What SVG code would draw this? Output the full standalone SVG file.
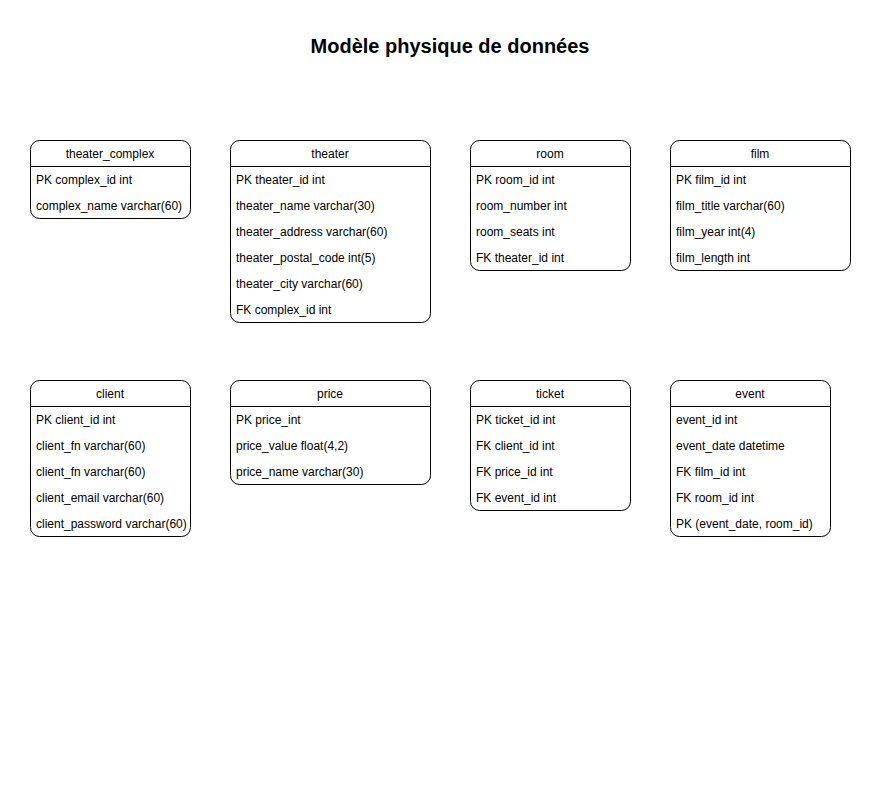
<svg xmlns="http://www.w3.org/2000/svg" width="882" height="791" viewBox="0 0 882 791">
<style>
.box{fill:#fff;stroke:#000;stroke-width:1}
.sep{stroke:#000;stroke-width:1}
text{font-family:"Liberation Sans",Arial,sans-serif;font-size:12px;fill:#000}
.h{text-anchor:middle}
.title{font-size:20px;font-weight:bold;text-anchor:middle}
</style>
<rect width="882" height="791" fill="#fff"/>
<text class="title" x="450" y="53">Modèle physique de données</text>
<g id="connectors"/>
<g id="theater_complex">
<rect class="box" x="30.5" y="140.5" width="160" height="78" rx="9"/>
<line class="sep" x1="30.5" y1="166.5" x2="190.5" y2="166.5"/>
<text class="h" x="110" y="158">theater_complex</text>
<text x="36" y="184">PK complex_id int</text>
<text x="36" y="210">complex_name varchar(60)</text>
</g>
<g id="theater">
<rect class="box" x="230.5" y="140.5" width="200" height="182" rx="9"/>
<line class="sep" x1="230.5" y1="166.5" x2="430.5" y2="166.5"/>
<text class="h" x="330" y="158">theater</text>
<text x="236" y="184">PK theater_id int</text>
<text x="236" y="210">theater_name varchar(30)</text>
<text x="236" y="236">theater_address varchar(60)</text>
<text x="236" y="262">theater_postal_code int(5)</text>
<text x="236" y="288">theater_city varchar(60)</text>
<text x="236" y="314">FK complex_id int</text>
</g>
<g id="room">
<rect class="box" x="470.5" y="140.5" width="160" height="130" rx="9"/>
<line class="sep" x1="470.5" y1="166.5" x2="630.5" y2="166.5"/>
<text class="h" x="550" y="158">room</text>
<text x="476" y="184">PK room_id int</text>
<text x="476" y="210">room_number int</text>
<text x="476" y="236">room_seats int</text>
<text x="476" y="262">FK theater_id int</text>
</g>
<g id="film">
<rect class="box" x="670.5" y="140.5" width="180" height="130" rx="9"/>
<line class="sep" x1="670.5" y1="166.5" x2="850.5" y2="166.5"/>
<text class="h" x="760" y="158">film</text>
<text x="676" y="184">PK film_id int</text>
<text x="676" y="210">film_title varchar(60)</text>
<text x="676" y="236">film_year int(4)</text>
<text x="676" y="262">film_length int</text>
</g>
<g id="client">
<rect class="box" x="30.5" y="380.5" width="160" height="156" rx="9"/>
<line class="sep" x1="30.5" y1="406.5" x2="190.5" y2="406.5"/>
<text class="h" x="110" y="398">client</text>
<text x="36" y="424">PK client_id int</text>
<text x="36" y="450">client_fn varchar(60)</text>
<text x="36" y="476">client_fn varchar(60)</text>
<text x="36" y="502">client_email varchar(60)</text>
<text x="36" y="528">client_password varchar(60)</text>
</g>
<g id="price">
<rect class="box" x="230.5" y="380.5" width="200" height="104" rx="9"/>
<line class="sep" x1="230.5" y1="406.5" x2="430.5" y2="406.5"/>
<text class="h" x="330" y="398">price</text>
<text x="236" y="424">PK price_int</text>
<text x="236" y="450">price_value float(4,2)</text>
<text x="236" y="476">price_name varchar(30)</text>
</g>
<g id="ticket">
<rect class="box" x="470.5" y="380.5" width="160" height="130" rx="9"/>
<line class="sep" x1="470.5" y1="406.5" x2="630.5" y2="406.5"/>
<text class="h" x="550" y="398">ticket</text>
<text x="476" y="424">PK ticket_id int</text>
<text x="476" y="450">FK client_id int</text>
<text x="476" y="476">FK price_id int</text>
<text x="476" y="502">FK event_id int</text>
</g>
<g id="event">
<rect class="box" x="670.5" y="380.5" width="160" height="156" rx="9"/>
<line class="sep" x1="670.5" y1="406.5" x2="830.5" y2="406.5"/>
<text class="h" x="750" y="398">event</text>
<text x="676" y="424">event_id int</text>
<text x="676" y="450">event_date datetime</text>
<text x="676" y="476">FK film_id int</text>
<text x="676" y="502">FK room_id int</text>
<text x="676" y="528">PK (event_date, room_id)</text>
</g>
</svg>
